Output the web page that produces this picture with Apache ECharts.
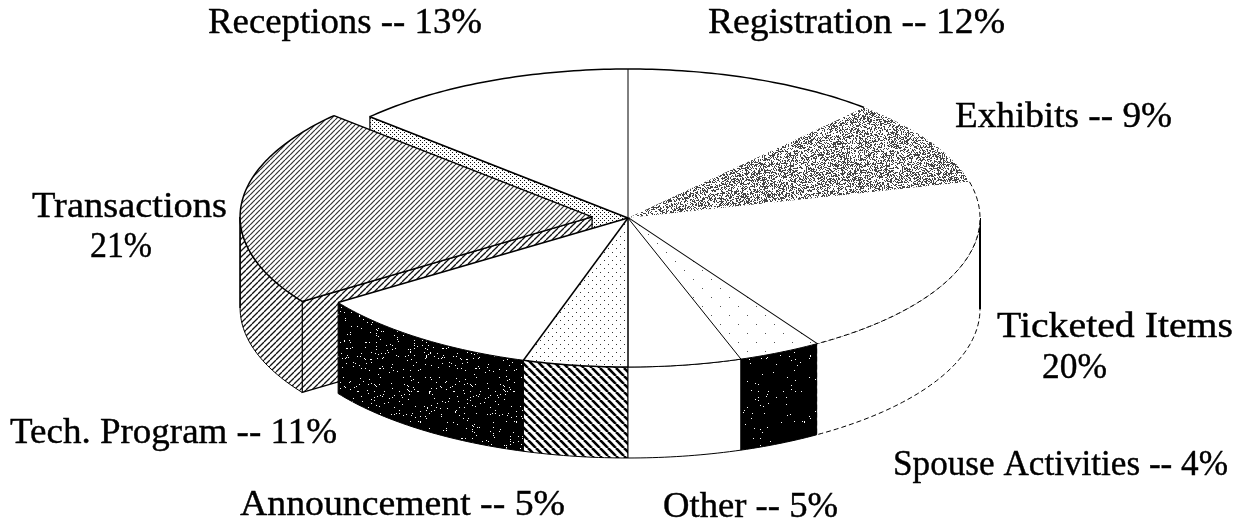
<!DOCTYPE html>
<html>
<head>
<meta charset="utf-8">
<style>html,body{margin:0;padding:0;background:#fff}#chart{width:1252px;height:528px}</style>
<script src="https://cdn.jsdelivr.net/npm/echarts@6/dist/echarts.min.js"></script>
</head>
<body>
<div id="chart"></div>
<script>
// slices clockwise from 12 o'clock
const categories = ['Registration', 'Exhibits', 'Ticketed Items', 'Spouse Activities', 'Other', 'Announcement', 'Tech. Program', 'Transactions', 'Receptions']
// what the labels print
const printedPercents = [12, 9, 20, 4, 5, 5, 11, 21, 13]
// slice sizes as measured on the picture (labels are rounded)
const sliceShares = [11.7, 9.4, 19.9, 3.8, 5.2, 4.8, 10.6, 21.5, 13.1]
const explodedBy = [0, 0, 0, 0, 0, 0, 0, 36, 0]
// painter's order, back to front
const drawOrder = [8, 0, 1, 2, 7, 6, 5, 4, 3]

// pie geometry
const cx = 628, cy = 218, rx = 352, ry = 149, depth = 91

// ---- fill tiles ----
function tile (w, h, draw) {
  const c = document.createElement('canvas')
  c.width = w; c.height = h
  const g = c.getContext('2d')
  g.fillStyle = '#fff'
  g.fillRect(0, 0, w, h)
  draw(g)
  return { image: c, repeat: 'repeat' }
}
function hatch (size, width, color, dir) {
  return tile(size, size, g => {
    g.strokeStyle = color
    g.lineWidth = width
    for (let k = -1; k <= 1; k++) {
      g.beginPath()
      if (dir > 0) { g.moveTo(k * size, size); g.lineTo(k * size + size, 0) }
      else { g.moveTo(k * size, 0); g.lineTo(k * size + size, size) }
      g.stroke()
    }
  })
}
// fixed scan-like grain
function grain (size, density, ink, paper) {
  return tile(size, size, g => {
    let s = 12345
    for (let y = 0; y < size; y++) {
      for (let x = 0; x < size; x++) {
        s = (s * 1103515245 + 12345) & 0x7fffffff
        g.fillStyle = ((s >> 8) % 1000) / 1000 < density ? ink : paper
        g.fillRect(x, y, 1, 1)
      }
    }
  })
}
function dots (step, color) {
  return tile(step * 2, step * 2, g => {
    g.fillStyle = color
    g.fillRect(0, 0, 1, 1)
    g.fillRect(step, step, 1, 1)
  })
}

const fills = {
  white: '#fff',
  hatchTop: hatch(5, 1.2, '#333', 1),
  hatchWall: hatch(6, 1.3, '#111', 1),
  hatchBold: hatch(8, 2.6, '#000', -1),
  fineDots: dots(2, '#111'),
  airyDots: dots(4, '#333'),
  sparseDots: dots(9, '#555'),
  speckle: grain(96, 0.42, '#444', '#fff'),
  coal: grain(96, 0.97, '#000', '#fff'),
  pitch: grain(96, 0.99, '#000', '#fff')
}

const sliceLook = [
  { top: 'white', wall: 'white', arc: 1.5, a0: 1, a1: 0, cut: false },
  { top: 'speckle', wall: 'white', arc: 0, a0: 0, a1: 0, cut: false },
  { top: 'white', wall: 'white', arc: 1, a0: 0, a1: 2, cut: false, dash: [5, 3], side: 2 },
  { top: 'sparseDots', wall: 'pitch', arc: 1, a0: 0, a1: 1, cut: false },
  { top: 'white', wall: 'white', arc: 1, a0: 0, a1: 1.5, cut: false },
  { top: 'airyDots', wall: 'hatchBold', arc: 1.5, a0: 0, a1: 1.5, cut: false },
  { top: 'white', wall: 'coal', arc: 1, a0: 0, a1: 1.5, cut: false },
  { top: 'hatchTop', wall: 'hatchWall', arc: 1.5, a0: 1.5, a1: 1.5, cut: true, side: 1.5 },
  { top: 'white', wall: 'fineDots', arc: 1.5, a0: 1.5, a1: 0, cut: true }
]

const cumulative = sliceShares.reduce((acc, v) => acc.concat(acc[acc.length - 1] + v), [0])
const seriesData = drawOrder.map(i => [cumulative[i], cumulative[i + 1], i])

function rimPoint (deg, ox, oy, drop) {
  const t = deg * Math.PI / 180
  return [cx + ox + rx * Math.sin(t), cy + oy + drop - ry * Math.cos(t)]
}
function arcPoints (from, to, ox, oy, drop) {
  const pts = []
  const n = Math.max(2, Math.ceil(to - from))
  for (let k = 0; k <= n; k++) pts.push(rimPoint(from + (to - from) * k / n, ox, oy, drop))
  return pts
}
function line (points, width, dash) {
  return { type: 'polyline', shape: { points }, style: { fill: null, stroke: '#000', lineWidth: width, lineDash: dash || null } }
}

function renderSlice (params, api) {
  const a0 = api.value(0) * 3.6
  const a1 = api.value(1) * 3.6
  const i = api.value(2)
  const look = sliceLook[i]
  const mid = (a0 + a1) / 2 * Math.PI / 180
  const ox = explodedBy[i] * Math.sin(mid)
  const oy = -explodedBy[i] * (ry / rx) * Math.cos(mid)
  const apex = [cx + ox, cy + oy]
  const kids = []

  // cut face left open by the exploded slice
  if (look.cut) {
    const p = rimPoint(a0, ox, oy, 0)
    const q = rimPoint(a0, ox, oy, depth)
    kids.push({ type: 'polygon', shape: { points: [apex, p, q, [apex[0], apex[1] + depth]] }, style: { fill: fills[look.wall], stroke: '#000', lineWidth: 1.2 } })
  }

  // outer wall, front half only
  const w0 = Math.max(a0, 90), w1 = Math.min(a1, 270)
  if (w1 > w0) {
    const upper = arcPoints(w0, w1, ox, oy, 0)
    const lower = arcPoints(w0, w1, ox, oy, depth).reverse()
    kids.push({ type: 'polygon', shape: { points: upper.concat(lower) }, style: { fill: fills[look.wall], stroke: '#000', lineWidth: 1, lineDash: look.dash || null } })
    if (look.side) {
      const sideAngle = a0 < 90 && a1 > 90 ? 90 : 270
      kids.push(line([rimPoint(sideAngle, ox, oy, 0), rimPoint(sideAngle, ox, oy, depth)], look.side))
    }
  }

  // top face
  kids.push({ type: 'polygon', shape: { points: [apex].concat(arcPoints(a0, a1, ox, oy, 0)) }, style: { fill: fills[look.top] } })
  if (look.arc) kids.push(line(arcPoints(a0, a1, ox, oy, 0), look.arc, look.dash))
  if (look.a0) kids.push(line([apex, rimPoint(a0, ox, oy, 0)], look.a0))
  if (look.a1) kids.push(line([apex, rimPoint(a1, ox, oy, 0)], look.a1))

  return { type: 'group', children: kids }
}

// ---- labels ----
const labelLines = [
  categories[8] + ' -- ' + printedPercents[8] + '%',
  categories[0] + ' -- ' + printedPercents[0] + '%',
  categories[1] + ' -- ' + printedPercents[1] + '%',
  categories[7],
  printedPercents[7] + '%',
  categories[2],
  printedPercents[2] + '%',
  categories[6] + ' -- ' + printedPercents[6] + '%',
  categories[3] + ' -- ' + printedPercents[3] + '%',
  categories[5] + ' -- ' + printedPercents[5] + '%',
  categories[4] + ' -- ' + printedPercents[4] + '%'
]
const labelLeft = [208, 708, 955, 32, 90, 997, 1042, 10, 893, 240, 663]
const labelRight = [482, 1005, 1172, 227, 152, 1233, 1107, 337, 1228, 565, 838]
const labelBase = [33, 33, 127, 217, 257, 337, 378, 443, 475, 515, 517]
const labelFont = '35px "Liberation Serif", serif'
const baselineDrop = 27 // text box top to baseline at this font size

// stretch each line to the width it has in the picture
const measure = document.createElement('canvas').getContext('2d')
measure.font = labelFont

const chart = echarts.init(document.getElementById('chart'), null, { renderer: 'canvas' })
chart.setOption({
  animation: false,
  backgroundColor: '#fff',
  series: [{
    type: 'custom',
    coordinateSystem: 'none',
    silent: true,
    renderItem: renderSlice,
    data: seriesData
  }],
  graphic: {
    elements: labelLines.map((text, k) => ({
      type: 'text',
      x: labelLeft[k],
      y: labelBase[k] - baselineDrop,
      scaleX: (labelRight[k] - labelLeft[k]) / measure.measureText(text).width,
      z: 10,
      style: { text, fill: '#000', stroke: '#000', lineWidth: 0.4, font: labelFont }
    }))
  }
})
</script>
</body>
</html>
